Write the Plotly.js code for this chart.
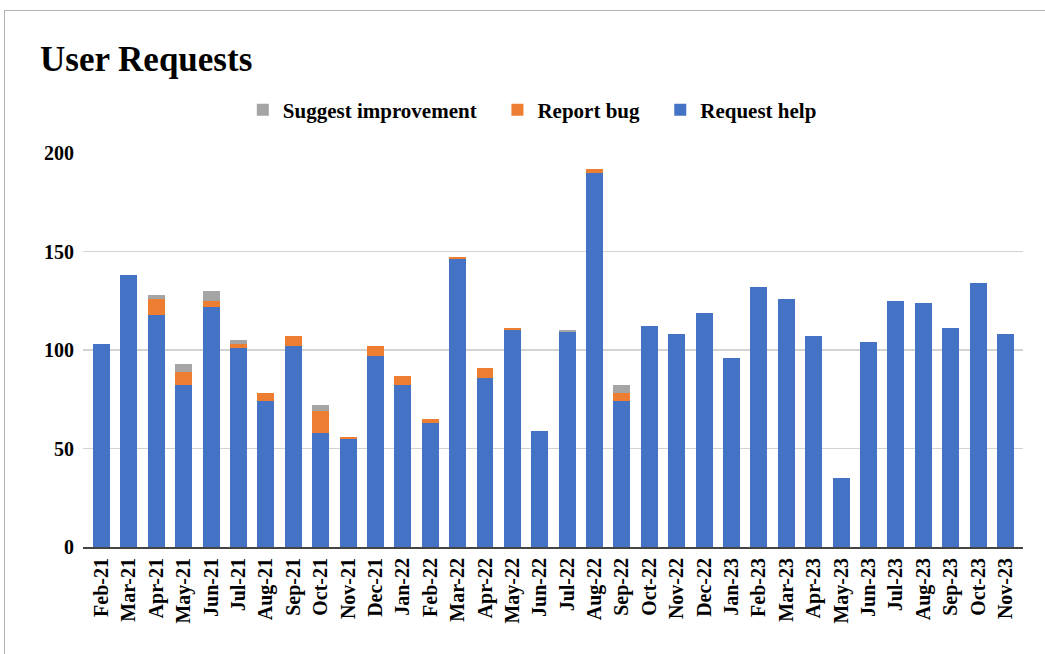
<!DOCTYPE html>
<html>
<head>
<meta charset="utf-8">
<script src="https://cdn.plot.ly/plotly-3.0.1.min.js"></script>
<style>
  html, body { margin: 0; padding: 0; background: #fff; }
  #chart { position: absolute; left: 0; top: 0; width: 1045px; height: 654px; }
  #frame { position: absolute; left: 4px; top: 10px; width: 1100px; height: 700px;
           border-top: 1.5px solid #b4b4b4; border-left: 1.5px solid #b4b4b4; pointer-events: none; }
</style>
</head>
<body>
<div id="chart"></div>
<div id="frame"></div>
<script>
const months = ["Feb-21","Mar-21","Apr-21","May-21","Jun-21","Jul-21","Aug-21","Sep-21","Oct-21","Nov-21","Dec-21",
  "Jan-22","Feb-22","Mar-22","Apr-22","May-22","Jun-22","Jul-22","Aug-22","Sep-22","Oct-22","Nov-22","Dec-22",
  "Jan-23","Feb-23","Mar-23","Apr-23","May-23","Jun-23","Jul-23","Aug-23","Sep-23","Oct-23","Nov-23"];
const requestHelp = [103,138,118,82,122,101,74,102,58,55,97,
  82,63,146,86,110,59,109,190,74,112,108,119,
  96,132,126,107,35,104,125,124,111,134,108];
const reportBug = [0,0,8,7,3,2,4,5,11,1,5,
  5,2,1,5,1,0,0,2,4,0,0,0,
  0,0,0,0,0,0,0,0,0,0,0];
const suggestImprovement = [0,0,2,4,5,2,0,0,3,0,0,
  0,0,0,0,0,0,1,0,4,0,0,0,
  0,0,0,0,0,0,0,0,0,0,0];
const yTicks = [0,50,100,150,200];

const font = "Liberation Serif, Times New Roman, serif";
const pad = '&nbsp;&nbsp;&nbsp;';
const traces = [
  {type:'bar', name:'<b>Request help</b>', x:months, y:requestHelp, marker:{color:'#4472C4'}},
  {type:'bar', name:'<b>Report bug</b>' + pad, x:months, y:reportBug, marker:{color:'#ED7D31'}},
  {type:'bar', name:'<b>Suggest improvement</b>' + pad, x:months, y:suggestImprovement, marker:{color:'#A5A5A5'}}
];
const layout = {
  width:1045, height:654,
  margin:{l:83, r:22, t:153, b:107},
  barmode:'stack', bargap:0.38,
  paper_bgcolor:'#fff', plot_bgcolor:'#fff',
  font:{family:font, color:'#000', size:20},
  title:{text:'<b>User Requests</b>', font:{family:font, size:35, color:'#000'},
         xref:'container', yref:'container', x:40/1045, xanchor:'left', y:1-59/654, yanchor:'middle'},
  showlegend:true,
  legend:{orientation:'h', traceorder:'reversed', x:0.478, xanchor:'center', y:1.109, yanchor:'middle',
          font:{family:font, size:21, color:'#000'}},
  xaxis:{type:'category', range:[-0.675, 33.64], tickangle:-90, showgrid:false,
         showline:true, linecolor:'#444', linewidth:2, ticks:'', ticklabelstandoff:1,
         tickvals:months, ticktext:months.map(m => '<b>' + m + '</b>'),
         tickfont:{family:font, size:20, color:'#000'}, fixedrange:true},
  yaxis:{range:[0,200], tickvals:yTicks, ticktext:yTicks.map(v => '<b>' + v + '</b>'),
         showgrid:true, gridcolor:'#d3d3d3', gridwidth:1.5,
         zeroline:false, showline:false, ticks:'', ticklabelstandoff:8,
         tickfont:{family:font, size:20, color:'#000'}, fixedrange:true}
};
Plotly.newPlot('chart', traces, layout, {displayModeBar:false, staticPlot:true});
</script>
</body>
</html>
